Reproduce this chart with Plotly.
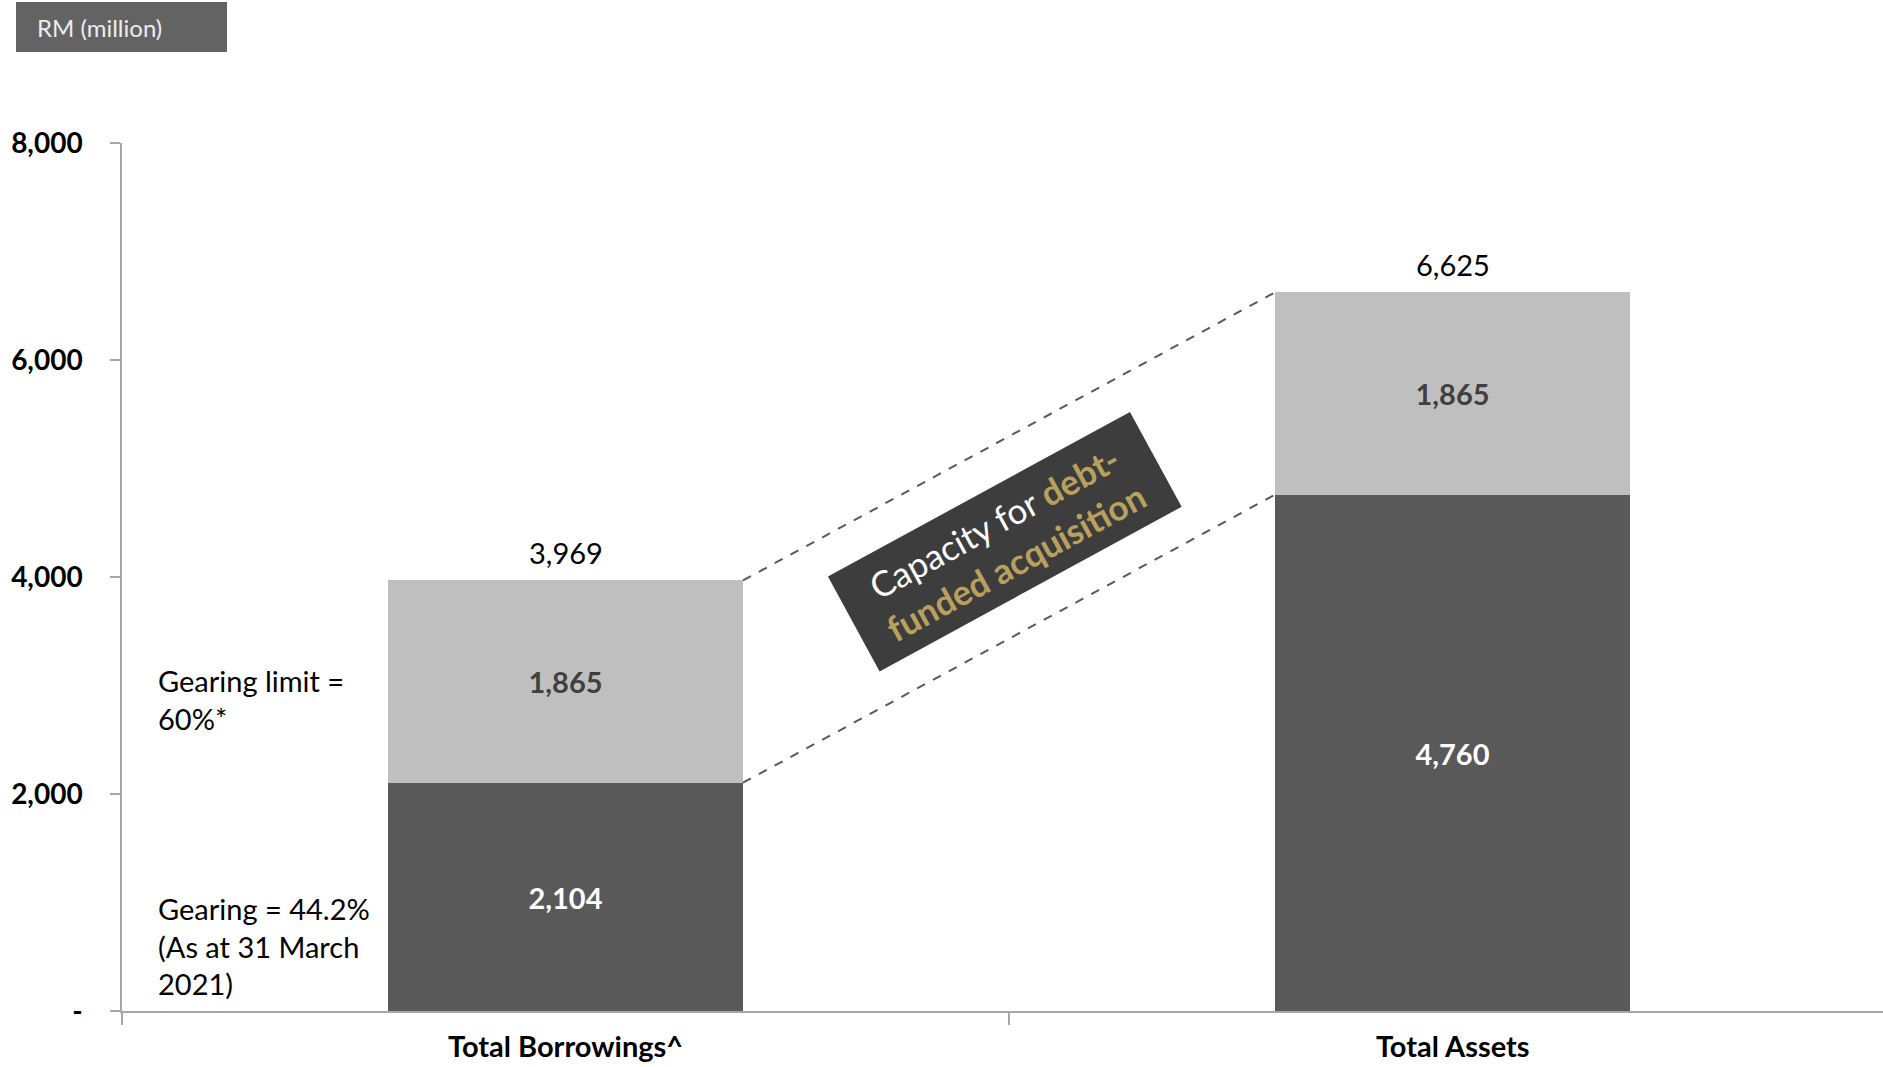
import plotly.graph_objects as go

categories = ["Total Borrowings^", "Total Assets"]
base_values = [2104, 4760]
capacity_values = [1865, 1865]
ytick_vals = [0, 2000, 4000, 6000, 8000]
ytick_text = ["-", "2,000", "4,000", "6,000", "8,000"]

totals = [b + c for b, c in zip(base_values, capacity_values)]

FONT = "Lato"
BAR_W = 0.4
DARK = "#595959"
LIGHT = "#bfbfbf"
GOLD = "#b9a05c"

W, H = 1883, 1067
L, R, T, B = 122, 0, 143, 56
PW, PH = W - L - R, H - T - B


def px(x):
    return (x - L) / PW


def py(y):
    return (H - B - y) / PH


fig = go.Figure()
fig.add_trace(go.Bar(
    x=categories, y=base_values, width=BAR_W, marker_color=DARK, marker_line_width=0,
    text=[f"{v:,}" for v in base_values], textposition="inside", insidetextanchor="middle",
    textangle=0, constraintext="none",
    textfont=dict(family=FONT, size=29, color="white", weight="bold"),
    showlegend=False, hoverinfo="skip",
))
fig.add_trace(go.Bar(
    x=categories, y=capacity_values, width=BAR_W, marker_color=LIGHT, marker_line_width=0,
    text=[f"{v:,}" for v in capacity_values], textposition="inside", insidetextanchor="middle",
    textangle=0, constraintext="none",
    textfont=dict(family=FONT, size=29, color="#404040", weight="bold"),
    showlegend=False, hoverinfo="skip",
))

# totals above bars
for i, t in enumerate(totals):
    fig.add_annotation(x=categories[i], y=t, xref="x", yref="y", text=f"{t:,}",
                       showarrow=False, yanchor="bottom", yshift=8,
                       font=dict(family=FONT, size=29, color="black"))

# dashed connector lines
fig.add_shape(type="line", xref="x", yref="y", x0=0 + BAR_W / 2, y0=totals[0],
              x1=1 - BAR_W / 2, y1=totals[1],
              line=dict(color=DARK, width=2, dash="dash"))
fig.add_shape(type="line", xref="x", yref="y", x0=0 + BAR_W / 2, y0=base_values[0],
              x1=1 - BAR_W / 2, y1=base_values[1],
              line=dict(color=DARK, width=2, dash="dash"))

# rotated box
fig.add_annotation(
    xref="paper", yref="paper", x=px(1005), y=py(541), showarrow=False,
    text=("Capacity for <b><span style='color:%s'>debt-</span></b><br>"
          "<b><span style='color:%s'>funded acquisition</span></b>") % (GOLD, GOLD),
    textangle=-28.6, bgcolor="#3d3d3d", borderpad=6, width=331, height=95,
    align="center", font=dict(family=FONT, size=35, color="white"),
)

# left notes
fig.add_annotation(xref="paper", yref="paper", x=px(156), y=py(699), xanchor="left",
                   yanchor="middle", showarrow=False, align="left",
                   text="Gearing limit =<br>60%*",
                   font=dict(family=FONT, size=29, color="black"))
fig.add_annotation(xref="paper", yref="paper", x=px(156), y=py(946), xanchor="left",
                   yanchor="middle", showarrow=False, align="left",
                   text="Gearing = 44.2%<br>(As at 31 March<br>2021)",
                   font=dict(family=FONT, size=29, color="black"))

# RM (million) label box
fig.add_shape(type="rect", xref="paper", yref="paper", x0=px(16), x1=px(227),
              y0=py(52), y1=py(2), fillcolor="#636363", line_width=0)
fig.add_annotation(xref="paper", yref="paper", x=px(35), y=py(27), xanchor="left",
                   yanchor="middle", showarrow=False, text="RM (million)",
                   font=dict(family=FONT, size=24, color="#ececec"))

fig.update_layout(
    width=W, height=H, barmode="stack",
    margin=dict(l=L, r=R, t=T, b=B, autoexpand=False),
    plot_bgcolor="white", paper_bgcolor="white", bargap=0,
)
fig.update_xaxes(
    type="category", range=[-0.5, 1.485], tickson="boundaries", ticks="outside",
    ticklen=12, tickcolor="#a6a6a6", tickwidth=1.5, showline=True, linecolor="#a6a6a6",
    linewidth=1.5, showgrid=False, ticklabelstandoff=9,
    tickfont=dict(family=FONT, size=29, color="black", weight="bold"),
)
fig.update_yaxes(
    range=[0, 8000], tickvals=ytick_vals, ticktext=ytick_text, ticks="outside",
    ticklen=10, tickcolor="#a6a6a6", tickwidth=1.5, showline=True, linecolor="#a6a6a6",
    linewidth=1.5, showgrid=False, zeroline=False, ticklabelstandoff=22,
    tickfont=dict(family=FONT, size=28, color="black", weight="bold"),
)

fig.write_html("out.html", config={"displayModeBar": False},
               post_script="document.body.style.margin='0';")
